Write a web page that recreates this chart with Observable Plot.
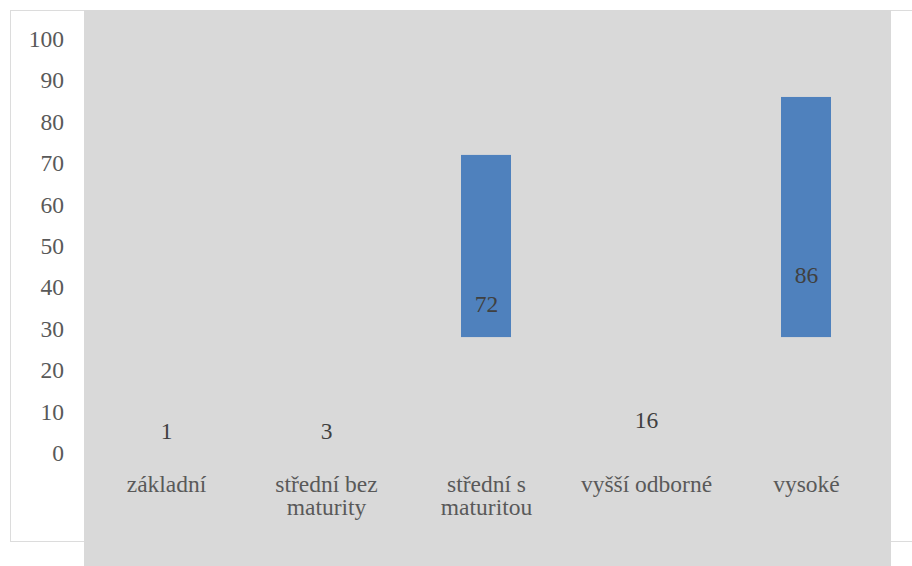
<!DOCTYPE html>
<html>
<head>
<meta charset="utf-8">
<script src="https://cdn.jsdelivr.net/npm/d3@7"></script>
<script src="https://cdn.jsdelivr.net/npm/@observablehq/plot@0.6"></script>
<style>
  body { margin: 0; background: #fff; }
  #chart svg { display: block; font-family: "Liberation Serif", "Times New Roman", "DejaVu Serif", serif !important; }
</style>
</head>
<body>
<div id="chart"></div>
<script>
// Education level categories and their counts
const categories = ["základní", "střední bez maturity", "střední s maturitou", "vyšší odborné", "vysoké"];
const xTickLabels = ["základní", "střední bez\nmaturity", "střední s\nmaturitou", "vyšší odborné", "vysoké"];
const values = [1, 3, 72, 16, 86];
const yTicks = [0, 10, 20, 30, 40, 50, 60, 70, 80, 90, 100];
// bars rise from this level of the value axis
const barBase = 28;

const rows = categories.map((category, i) => ({ category, value: values[i] }));
// lowest position for a value label so small counts stay readable
const labelFloor = 5.3;

const font = "Liberation Serif, Times New Roman, DejaVu Serif, serif";

const chart = Plot.plot({
  width: 912,
  height: 566,
  marginLeft: 84.5,
  marginRight: 24.5,
  marginTop: 39,
  marginBottom: 113,
  style: { fontFamily: font, fontSize: "23.5px", background: "transparent" },
  x: { domain: categories, paddingInner: 0.685, paddingOuter: 0.3425, axis: null, label: null },
  y: { domain: [0, 100], axis: null, label: null },
  marks: [
    // outer chart box
    Plot.frame({ stroke: "#dcdcdc", fill: "white", insetLeft: -74.5, insetTop: -29, insetBottom: -88, insetRight: -40 }),
    // plot area panel
    Plot.frame({ fill: "#d9d9d9", insetLeft: -1, insetRight: -3, insetTop: -29.5, insetBottom: -120 }),
    Plot.axisY(yTicks, {
      tickSize: 0,
      tickPadding: 21,
      label: null,
      fill: "#595959",
      fontFamily: font,
      fontSize: 23.5
    }),
    Plot.axisX({
      tickSize: 0,
      tickPadding: 21,
      label: null,
      tickFormat: (d) => xTickLabels[categories.indexOf(d)],
      lineHeight: 1.02,
      fill: "#595959",
      fontFamily: font,
      fontSize: 23.5
    }),
    Plot.rectY(rows.filter((d) => d.value > barBase), {
      x: "category",
      y1: barBase,
      y2: "value",
      fill: "#4f81bd"
    }),
    Plot.text(rows, {
      x: "category",
      y: (d) => Math.max(d.value / 2, labelFloor),
      text: (d) => String(d.value),
      fill: "#404040",
      fontFamily: font,
      fontSize: 23.5
    })
  ]
});

document.getElementById("chart").append(chart);
</script>
</body>
</html>
